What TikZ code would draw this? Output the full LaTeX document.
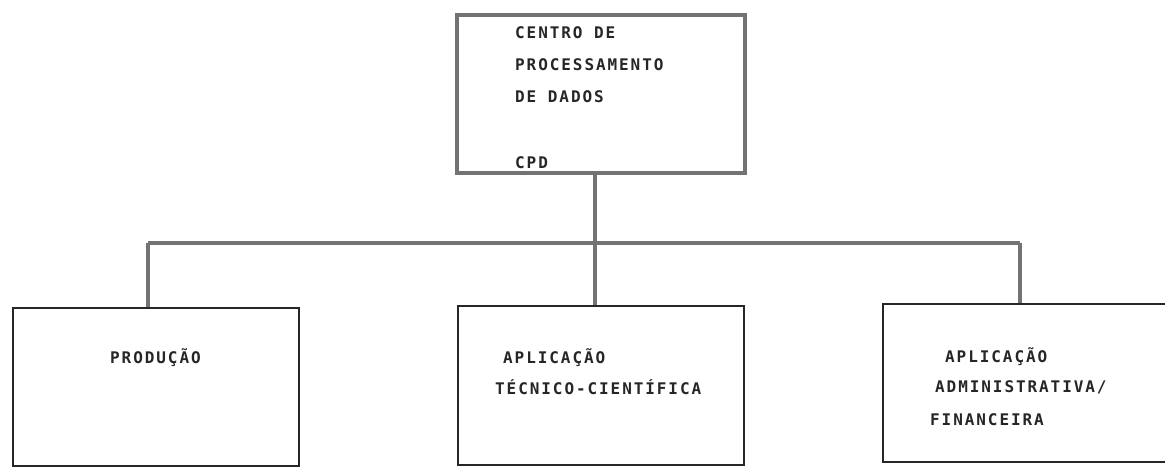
\documentclass[tikz,border=0pt]{standalone}
\usepackage{fontspec}
\newfontfamily\dotfont[LetterSpace=12]{DejaVu Sans Mono}
\tikzset{
  heavy/.style={draw=black!55, line width=3.2pt},
  thinbox/.style={draw=black!85, line width=1.4pt},
  boxshape/.style={rectangle, inner sep=0pt},
  lbl/.style={anchor=base west, inner sep=0pt, text=black!85, font=\dotfont\bfseries\fontsize{16}{16}\selectfont},
}
\begin{document}
\begin{tikzpicture}[x=1pt,y=-1pt]
\useasboundingbox (0,0) rectangle (1165,467);
\clip (0,0) rectangle (1165,467);
% boxes
\node[boxshape, heavy, minimum width=288pt, minimum height=158pt] (top) at (601,94) {};
\node[boxshape, thinbox, minimum width=286pt, minimum height=158pt] (b1) at (156,387) {};
\node[boxshape, thinbox, minimum width=286pt, minimum height=159pt] (b2) at (601,385.5) {};
\node[boxshape, thinbox, minimum width=300pt, minimum height=158pt] (b3) at (1033,383) {};
% junction coordinates
\coordinate (j) at (595,243);
\coordinate (bl) at (148,243);
\coordinate (br) at (1020,243);
% connectors
\draw[heavy] (top.south -| j) -- (b2.north -| j);
\draw[heavy] (bl) -- (br);
\draw[heavy] (bl) -- (bl |- b1.north);
\draw[heavy] (br) -- (br |- b3.north);
% texts
\node[lbl] (t1) at (515,38) {CENTRO DE};
\node[lbl] (t2) at (515,70) {PROCESSAMENTO};
\node[lbl] (t3) at (515,102) {DE DADOS};
\node[lbl] (t4) at (515,168) {CPD};
\node[lbl] (p1) at (110,363) {PRODUÇÃO};
\node[lbl] (a1) at (503,363) {APLICAÇÃO};
\node[lbl] (a2) at (495,394) {TÉCNICO-CIENTÍFICA};
\node[lbl] (c1) at (945,362) {APLICAÇÃO};
\node[lbl] (c2) at (935,392) {ADMINISTRATIVA/};
\node[lbl] (c3) at (930,425) {FINANCEIRA};
\end{tikzpicture}
\end{document}
